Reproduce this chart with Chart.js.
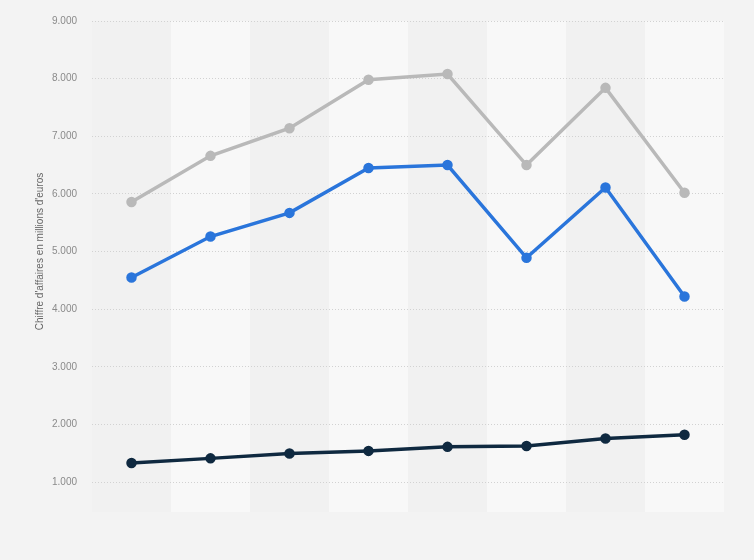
<!DOCTYPE html>
<html>
<head>
<meta charset="utf-8">
<script src="https://cdn.jsdelivr.net/npm/chart.js@4/dist/chart.umd.min.js"></script>
<style>
    html, body { margin: 0; padding: 0; background: #f3f3f3; }
    #wrap { width: 754px; height: 560px; position: relative; }
</style>
</head>
<body>
<div id="wrap"><canvas id="revChart"></canvas></div>
<script>
var categories = ['', '', '', '', '', '', '', ''];
var serie_grise = [5860, 6660, 7140, 7980, 8080, 6500, 7840, 6020];
var serie_bleue = [4550, 5260, 5670, 6450, 6500, 4890, 6110, 4220];
var serie_marine = [1330, 1410, 1495, 1540, 1610, 1625, 1755, 1820];
var y_ticks = [1000, 2000, 3000, 4000, 5000, 6000, 7000, 8000, 9000];

// fond + bandes alternées, dessinés avant la grille
var bandsPlugin = {
    id: 'bands',
    beforeDraw: function (chart) {
        var ctx = chart.ctx;
        var xs = chart.scales.x;
        var area = chart.chartArea;
        var w = (area.right - area.left) / categories.length;
        ctx.save();
        ctx.fillStyle = '#f3f3f3';
        ctx.fillRect(0, 0, chart.width, chart.height);
        for (var i = 0; i < categories.length; i++) {
            var cx = xs.getPixelForValue(i);
            ctx.fillStyle = (i % 2 === 1) ? '#f8f8f8' : '#f1f1f1';
            ctx.fillRect(cx - w / 2, area.top, w, area.bottom - area.top + 30);
        }
        ctx.restore();
    }
};

function makeSet(label, data, color) {
    return {
        label: label,
        data: data,
        borderColor: color,
        backgroundColor: color,
        pointBackgroundColor: color,
        pointBorderColor: color,
        borderWidth: 3.5,
        pointRadius: 3.5,
        fill: false,
        tension: 0
    };
}

var chart = new Chart(document.getElementById('revChart').getContext('2d'), {
    type: 'line',
    data: {
        labels: categories,
        datasets: [
            makeSet('Série 1', serie_grise, '#b9b9b9'),
            makeSet('Série 2', serie_bleue, '#2a75db'),
            makeSet('Série 3', serie_marine, '#0f2940')
        ]
    },
    plugins: [bandsPlugin],
    options: {
        responsive: true,
        maintainAspectRatio: false,
        animation: false,
        layout: { padding: { left: 0, right: 30, top: 14, bottom: 78 } },
        plugins: {
            legend: { display: false },
            tooltip: { enabled: false }
        },
        scales: {
            x: {
                display: false,
                offset: true
            },
            y: {
                min: 1000,
                max: 9000,
                afterBuildTicks: function (scale) {
                    scale.ticks = y_ticks.map(function (v) { return { value: v }; });
                },
                afterFit: function (scale) {
                    scale.width = 92;
                },
                grid: {
                    color: '#d2d2d2',
                    lineWidth: 1,
                    drawTicks: false
                },
                border: { display: false, dash: [1, 2] },
                ticks: {
                    color: '#8a8a8a',
                    padding: 15,
                    font: { family: 'Liberation Sans', size: 10 },
                    callback: function (v) {
                        return v.toLocaleString('de-DE');
                    }
                },
                title: {
                    display: true,
                    text: "Chiffre d'affaires en millions d'euros",
                    color: '#666666',
                    font: { family: 'Liberation Sans', size: 10 },
                    padding: { top: 34, bottom: 0 }
                }
            }
        }
    }
});
</script>
</body>
</html>
